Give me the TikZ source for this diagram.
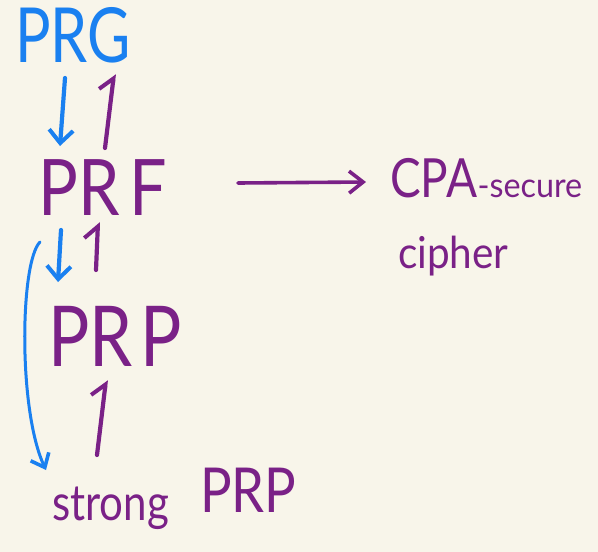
\documentclass[tikz,border=0pt]{standalone}
\usepackage{fontspec}
\setmainfont{Lato}
\usetikzlibrary{arrows.meta}
\definecolor{paper}{HTML}{F8F5EA}
\definecolor{inkblue}{HTML}{1A80F0}
\definecolor{inkpurple}{HTML}{7A2187}
\tikzset{
  lbl/.style={inner sep=0pt, anchor=base west},
  pen/.style={line width=4.2pt, line cap=round, line join=round},
  bluepen/.style={pen, draw=inkblue},
  purplepen/.style={pen, draw=inkpurple},
  vtip/.style={-{Straight Barb[length=13pt,width=24pt,line width=4pt]}},
  hooktip/.style={-{Straight Barb[left,length=12pt,width=26pt,line width=4pt]}},
}
\begin{document}
\begin{tikzpicture}[x=1pt,y=-1pt]
  \fill[paper] (0,0) rectangle (598,552);
  \useasboundingbox (0,0) rectangle (598,552);

  % labels
  \node[lbl, text=inkblue, font=\fontsize{76}{80}\selectfont, xscale=0.78] (prg) at (15,62) {PRG};
  \node[lbl, text=inkpurple, font=\fontsize{78}{80}\selectfont, xscale=0.85] (prf) at (38,215) {PR\kern 12pt F};
  \node[lbl, text=inkpurple, font=\fontsize{84}{86}\selectfont, xscale=0.82] (prp) at (48,366) {PR\kern 10pt P};
  \node[lbl, text=inkpurple, font=\fontsize{54}{56}\selectfont, xscale=0.85] (cpa) at (390,197) {CPA};
  \node[lbl, text=inkpurple, font=\fontsize{34}{36}\selectfont, xscale=0.95] (sec) at (cpa.base east) {-secure};
  \node[lbl, text=inkpurple, font=\fontsize{44}{46}\selectfont, xscale=0.92] (ciph) at (398,268) {cipher};
  \node[lbl, text=inkpurple, font=\fontsize{50}{54}\selectfont, xscale=0.84] (strong) at (52,520) {strong};
  \node[lbl, text=inkpurple, font=\fontsize{62}{64}\selectfont, xscale=0.85] (sprp) at (200,512) {PRP};

  % arrow end points
  \coordinate (g1) at (65,78);   \coordinate (f1) at (60,146);
  \coordinate (f2) at (105,148); \coordinate (g2) at (114,74);
  \coordinate (f3) at (61,230);  \coordinate (p3) at (58,282);
  \coordinate (p4) at (96,270);  \coordinate (f4) at (98,222);
  \coordinate (s5) at (97,455);  \coordinate (p5) at (106,380);
  \coordinate (f6) at (40,242);  \coordinate (s6) at (46,470);
  \coordinate (f7) at (238,183); \coordinate (c7) at (366,182);

  % reductions
  \draw[bluepen, vtip] (g1) -- (f1);
  \draw[purplepen, hooktip] (f2) -- (g2);
  \draw[bluepen, vtip] (f3) -- (p3);
  \draw[purplepen, hooktip] (p4) -- (f4);
  \draw[purplepen, hooktip] (s5) -- (p5);
  \draw[bluepen, line width=3pt, -{Straight Barb[length=12pt,width=20pt,line width=3.6pt]}] (f6) .. controls (20,262) and (18,410) .. (s6);
  \draw[purplepen, line width=3.6pt, -{Straight Barb[length=14pt,width=22pt,line width=3.6pt]}] (f7) -- (c7);
\end{tikzpicture}
\end{document}
